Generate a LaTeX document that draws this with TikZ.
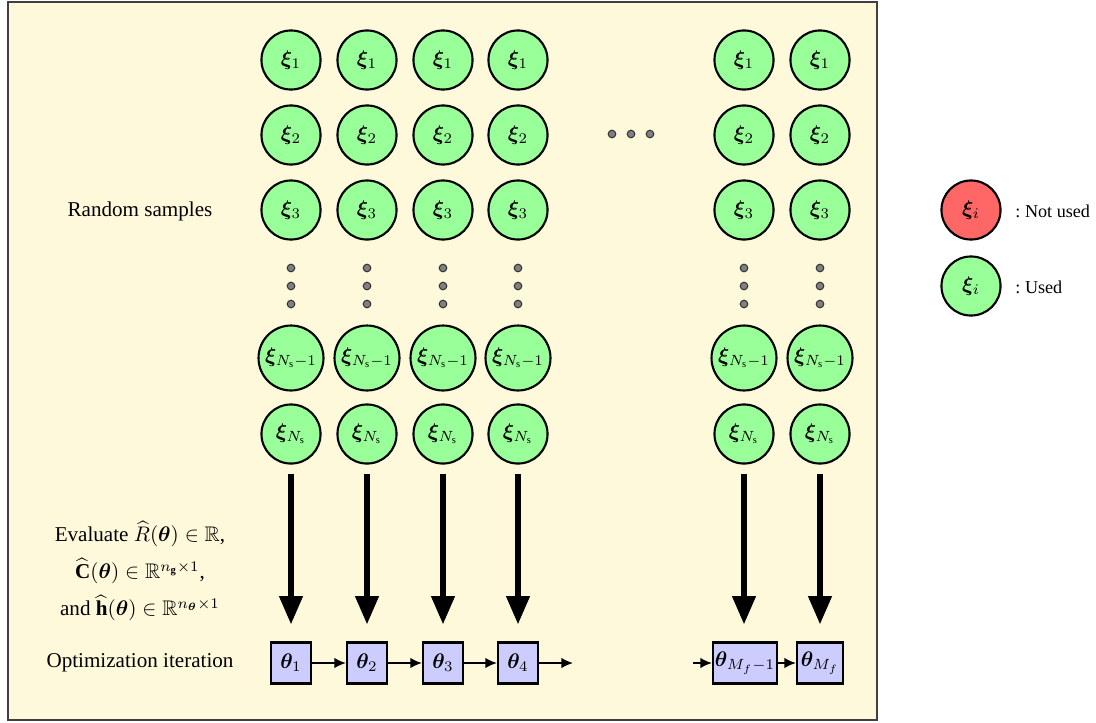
\documentclass[tikz,border=0pt]{standalone}
\usepackage{amsmath,amssymb,bm}
\usepackage{fontspec}
\setmainfont{Liberation Serif}
\usetikzlibrary{arrows.meta}
\frenchspacing
\definecolor{bgcream}{RGB}{255,249,219}
\definecolor{usedgreen}{RGB}{153,255,153}
\definecolor{unusedred}{RGB}{255,102,102}
\definecolor{boxblue}{RGB}{204,204,255}
\tikzset{
  sample/.style={circle, draw=black, line width=1pt, fill=usedgreen, minimum size=28pt, inner sep=0.8pt},
  widesample/.style={sample, minimum size=30.8pt},
  unused/.style={sample, fill=unusedred},
  dotmark/.style={circle, draw=black!80, fill=black!50, line width=0.5pt, minimum size=3.6pt, inner sep=0pt},
  bigarrow/.style={line width=3.3pt, -{Triangle[length=13.7pt,width=10.4pt]}},
  iterbox/.style={rectangle, draw=black, line width=1pt, fill=boxblue, minimum width=19pt, minimum height=19.4pt, inner sep=1pt},
  iterarrow/.style={line width=0.8pt, -{Latex[length=5.5pt,width=5pt]}},
  label/.style={inner sep=0pt},
  legendtext/.style={inner sep=0pt, anchor=west, font=\fontsize{8.6}{10}\selectfont}
}
\begin{document}
\begin{tikzpicture}[x=0.474pt, y=-0.474pt]
\useasboundingbox (0,0) rectangle (1096,722);
\draw[fill=bgcream, draw=black!75, line width=0.5pt] (8,2) rectangle (877,720);

% sample columns
\foreach \c/\x in {1/291, 2/367, 3/443, 4/518, 5/744, 6/820} {
  \node[sample] (s1-\c) at (\x,60) {$\bm{\xi}_1$};
  \node[sample] (s2-\c) at (\x,135) {$\bm{\xi}_2$};
  \node[sample] (s3-\c) at (\x,210) {$\bm{\xi}_3$};
  \node[dotmark] (vd1-\c) at (\x,268) {};
  \node[dotmark] (vd2-\c) at (\x,286) {};
  \node[dotmark] (vd3-\c) at (\x,304) {};
  \node[widesample] (sm-\c) at (\x,358) {$\bm{\xi}_{N_\mathrm{s}-1}$};
  \node[sample] (sn-\c) at (\x,434) {$\bm{\xi}_{N_\mathrm{s}}$};
  \coordinate (at-\c) at (\x,474);
  \coordinate (ab-\c) at (\x,625);
  \draw[bigarrow] (at-\c) -- (ab-\c);
}

% horizontal dots
\node[dotmark] (hd1) at (612,134) {};
\node[dotmark] (hd2) at (631,134) {};
\node[dotmark] (hd3) at (650,134) {};

% iterations
\node[iterbox] (t1) at (291,663) {$\bm{\theta}_1$};
\node[iterbox] (t2) at (367,663) {$\bm{\theta}_2$};
\node[iterbox] (t3) at (443,663) {$\bm{\theta}_3$};
\node[iterbox] (t4) at (518,663) {$\bm{\theta}_4$};
\node[iterbox, minimum width=30.3pt, inner sep=0.5pt] (t5) at (745,663) {$\bm{\theta}_{M_f-1}$};
\node[iterbox, minimum width=21.8pt] (t6) at (820,663) {$\bm{\theta}_{M_f}$};
\coordinate (tout) at (573,663);
\coordinate (tin) at (693,663);
\draw[iterarrow] (t1) -- (t2);
\draw[iterarrow] (t2) -- (t3);
\draw[iterarrow] (t3) -- (t4);
\draw[iterarrow] (t4) -- (tout);
\draw[iterarrow] (tin) -- (t5);
\draw[iterarrow] (t5) -- (t6);

% left labels
\node[label] (lrand) at (140,211) {Random samples};
\node[label, align=center, font={\baselineskip=17.6pt\lineskiplimit=-30pt}] (leval) at (140,571)
  {Evaluate $\widehat{R}(\bm{\theta})\in\mathbb{R}$,\\
   $\widehat{\mathbf{C}}(\bm{\theta})\in\mathbb{R}^{n_{\mathbf{g}}\times 1}$,\\
   and $\widehat{\mathbf{h}}(\bm{\theta})\in\mathbb{R}^{n_{\bm{\theta}}\times 1}$};
\node[label] (lopt) at (140,663) {Optimization iteration};

% legend
\node[unused] (legred) at (971,210) {$\bm{\xi}_i$};
\node[sample] (leggreen) at (971,286) {$\bm{\xi}_i$};
\node[legendtext] (legtxt1) at (1015,211) {: Not used};
\node[legendtext] (legtxt2) at (1015,287) {: Used};
\end{tikzpicture}
\end{document}
